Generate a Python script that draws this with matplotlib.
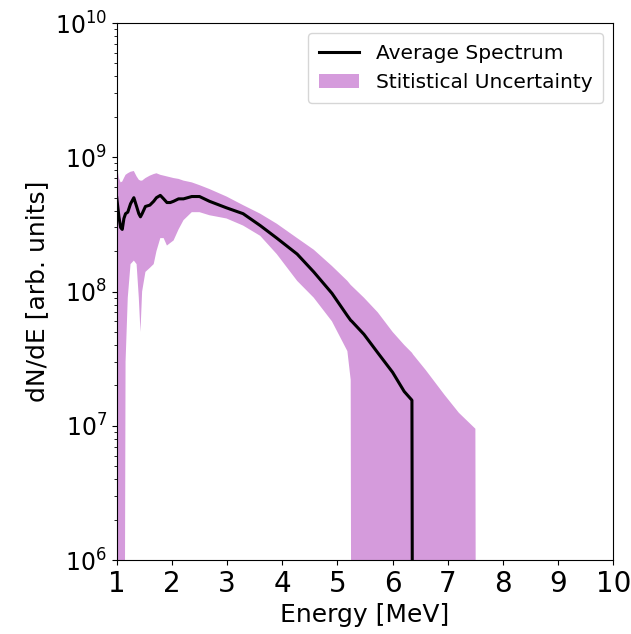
import matplotlib
matplotlib.use("Agg")
import matplotlib.pyplot as plt
import numpy as np

TINY = 1e3  # below the visible range (bins with no counts)

energy = [1.00, 1.04, 1.07, 1.10, 1.13, 1.16, 1.20, 1.25, 1.31, 1.36, 1.40, 1.43,
          1.46, 1.52, 1.60, 1.67, 1.72, 1.79, 1.85, 1.91, 1.97, 2.03, 2.12, 2.21,
          2.36, 2.50, 2.68, 2.99, 3.29, 3.60, 3.90, 4.27, 4.57, 4.90, 5.18, 5.24,
          5.26, 5.48, 5.73, 6.00, 6.21, 6.35, 6.37, 6.60, 6.94, 7.20, 7.50, 7.52,
          8.00, 10.00]

mean = [5.0e8, 3.6e8, 3.0e8, 2.9e8, 3.5e8, 3.8e8, 3.9e8, 4.5e8, 5.0e8, 4.3e8, 3.8e8, 3.6e8,
        3.8e8, 4.3e8, 4.4e8, 4.7e8, 5.0e8, 5.2e8, 4.9e8, 4.6e8, 4.6e8, 4.7e8, 4.9e8, 4.9e8,
        5.1e8, 5.1e8, 4.7e8, 4.2e8, 3.8e8, 3.1e8, 2.5e8, 1.9e8, 1.4e8, 9.7e7, 6.6e7, 6.1e7,
        6.0e7, 4.8e7, 3.5e7, 2.5e7, 1.8e7, 1.55e7, TINY, TINY, TINY, TINY, TINY, TINY,
        TINY, TINY]

upper = [8.7e8, 7.0e8, 6.5e8, 6.6e8, 7.0e8, 7.4e8, 7.6e8, 7.8e8, 7.9e8, 7.2e8, 6.8e8, 6.7e8,
         6.7e8, 7.0e8, 7.3e8, 7.5e8, 7.6e8, 7.4e8, 7.3e8, 7.2e8, 7.1e8, 7.0e8, 6.9e8, 6.7e8,
         6.5e8, 6.2e8, 5.8e8, 5.1e8, 4.4e8, 3.8e8, 3.2e8, 2.5e8, 2.05e8, 1.55e8, 1.2e8, 1.12e8,
         1.1e8, 9.0e7, 7.0e7, 5.0e7, 4.0e7, 3.5e7, 3.4e7, 2.6e7, 1.7e7, 1.25e7, 9.5e6, TINY,
         TINY, TINY]

lower = [TINY, TINY, TINY, TINY, TINY, 3.0e7, 9.0e7, 1.6e8, 1.7e8, 1.6e8, 9.0e7, 5.0e7,
         1.0e8, 1.4e8, 1.5e8, 1.6e8, 2.0e8, 2.5e8, 2.5e8, 2.2e8, 2.3e8, 2.4e8, 2.9e8, 3.4e8,
         3.9e8, 3.9e8, 3.7e8, 3.5e8, 3.1e8, 2.6e8, 1.9e8, 1.2e8, 9.0e7, 6.0e7, 3.6e7, 2.2e7,
         TINY, TINY, TINY, TINY, TINY, TINY, TINY, TINY, TINY, TINY, TINY, TINY,
         TINY, TINY]

x_ticks = [1, 2, 3, 4, 5, 6, 7, 8, 9, 10]

fig = plt.figure(figsize=(6.31, 6.34), dpi=100)
ax = fig.add_axes([0.185, 0.1167, 0.787, 0.847])

band = ax.fill_between(energy, lower, upper, color="#d59bdc", linewidth=0,
                       label="Stitistical Uncertainty")
line, = ax.plot(energy, mean, color="black", linewidth=2.2, label="Average Spectrum")

ax.set_yscale("log")
ax.set_xlim(1, 10)
ax.set_ylim(1e6, 1e10)
ax.set_xticks(x_ticks)
ax.tick_params(axis="x", labelsize=20)
ax.tick_params(axis="y", labelsize=17)
ax.set_xlabel("Energy [MeV]", fontsize=18)
ax.set_ylabel("dN/dE [arb. units]", fontsize=18)

ax.legend(handles=[line, band], loc="upper right", fontsize=14.5, borderpad=0.55)

fig.savefig("out.png", dpi=100)
